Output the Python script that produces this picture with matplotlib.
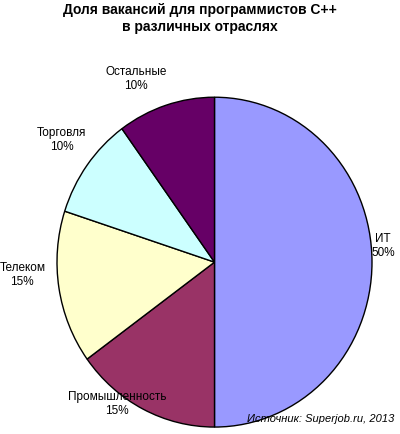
import matplotlib
matplotlib.use("Agg")
import matplotlib.pyplot as plt

labels = ["ИТ", "Промышленность", "Телеком", "Торговля", "Остальные"]
values = [50, 15, 15, 10, 10]
colors = ["#9999FF", "#993366", "#FFFFCC", "#CCFFFF", "#660066"]
label_pos = [(1.07, 0.10), (-0.62, -0.86), (-1.22, -0.08), (-0.97, 0.74), (-0.5, 1.11)]

plt.rcParams['font.family'] = ['Liberation Sans', 'DejaVu Sans']
fig = plt.figure(figsize=(4, 4.34), dpi=100)
ax = fig.add_axes([0.1425, 0.016, 0.7875, 0.76])
ax.pie(values, colors=colors, startangle=90, counterclock=False,
       wedgeprops=dict(edgecolor="black", linewidth=1))
ax.set_aspect('auto')
ax.set_xlim(-1, 1); ax.set_ylim(-1, 1)
for lab, v, (x, y) in zip(labels, values, label_pos):
    ax.text(x, y, f"{lab}\n{v}%", ha="center", va="center", fontsize=8.5, clip_on=False)
fig.text(0.5, 0.957, "Доля вакансий для программистов С++\nв различных отраслях",
         ha="center", va="center", fontsize=10, fontweight="bold", linespacing=1.3)
fig.text(0.985, 0.035, "Источник: Superjob.ru, 2013", ha="right", va="center",
         fontsize=8, style="italic")
fig.savefig("out.png", dpi=100)
